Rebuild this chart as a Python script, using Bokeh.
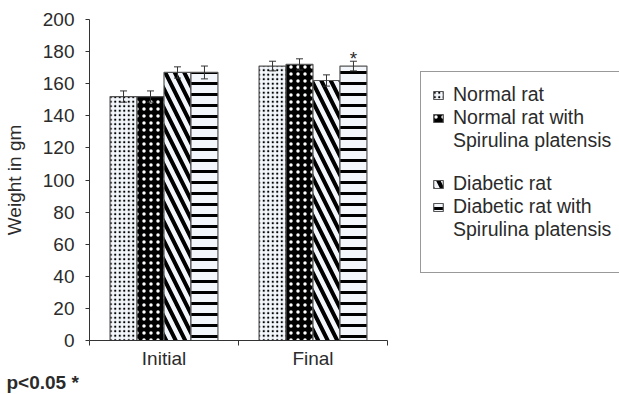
from bokeh.plotting import figure
from bokeh.models import (Range1d, FixedTicker, ColumnDataSource, Whisker,
                          Legend, LegendItem, Title, TeeHead)
from bokeh.core.properties import value
from bokeh.embed import file_html
from bokeh.resources import INLINE

# ---------------- data ----------------
groups = ["Initial", "Final"]
series = ["Normal rat", "Normal rat with Spirulina platensis",
          "Diabetic rat", "Diabetic rat with Spirulina platensis"]
normal = [152, 171]
normal_sp = [152, 172]
diabetic = [167, 162]
diabetic_sp = [167, 171]
normal_err = [3.5, 3.0]
normal_sp_err = [3.5, 3.5]
diabetic_err = [3.5, 3.5]
diabetic_sp_err = [4.0, 3.0]
y_ticks = [0, 20, 40, 60, 80, 100, 120, 140, 160, 180, 200]
sig_marks = ["", "*"]          # significance mark on "Diabetic rat with Spirulina" bars
note_text = "p<0.05 *"
y_title = "Weight in gm"

values = [normal, normal_sp, diabetic, diabetic_sp]
errors = [normal_err, normal_sp_err, diabetic_err, diabetic_sp_err]

FONT = "Liberation Sans"
TXT = "#2b2b2b"
LIGHT = "#f3f7fb"

# ---------------- layout ----------------
W, H = 619, 394
LEFT, TOP, BOTTOM = 89, 19, 54
AXIS_PX = 298                      # pixel length of the category axis
frame_w = W - LEFT
x_end = len(groups) * frame_w / AXIS_PX   # frame extends right to host the legend

p = figure(width=W, height=H, x_range=Range1d(0, x_end), y_range=Range1d(0, 200),
           output_backend="svg", toolbar_location=None,
           min_border_left=LEFT, min_border_right=0, min_border_top=TOP, min_border_bottom=BOTTOM)
p.xgrid.visible = False
p.ygrid.visible = False
p.outline_line_color = None
p.background_fill_color = "white"
p.border_fill_color = "white"

n = len(series)
bar_w = 0.181
offsets = [(k - (n - 1) / 2) * bar_w for k in range(n)]

styles = [
    dict(fill_color=LIGHT, hatch_pattern="dot", hatch_color="black", hatch_scale=4.5, hatch_weight=2.8),
    dict(fill_color="black", hatch_pattern="dot", hatch_color="white", hatch_scale=7, hatch_weight=1.6),
    dict(fill_color=LIGHT, hatch_pattern="left_diagonal_line", hatch_color="black", hatch_scale=19, hatch_weight=4),
    dict(fill_color=LIGHT, hatch_pattern="horizontal_line", hatch_color="black", hatch_scale=11, hatch_weight=3),
]

renderers = []
for k in range(n):
    xs = [g + 0.5 + offsets[k] for g in range(len(groups))]
    src = ColumnDataSource(dict(
        x=xs, top=values[k],
        upper=[v + e for v, e in zip(values[k], errors[k])],
        lower=[v - e for v, e in zip(values[k], errors[k])],
    ))
    r = p.vbar(x="x", top="top", width=bar_w, source=src, line_color="#555555", line_width=1.2,
               **styles[k])
    renderers.append(r)
    w = Whisker(source=src, base="x", upper="upper", lower="lower", line_color="#333333", line_width=1,
                upper_head=TeeHead(size=7, line_color="#333333", line_width=1),
                lower_head=TeeHead(size=7, line_color="#333333", line_width=1))
    w.level = "overlay"
    p.add_layout(w)

# significance asterisk
last = n - 1
ast_src = ColumnDataSource(dict(
    x=[g + 0.5 + offsets[last] for g in range(len(groups))],
    y=[v + e + 1.5 for v, e in zip(values[last], errors[last])],
    t=sig_marks))
p.text(x="x", y="y", text="t", source=ast_src, text_align="center", text_baseline="alphabetic",
       text_font=value(FONT), text_font_size="19px", text_color=TXT)

# ---------------- axes ----------------
ya = p.yaxis[0]
ya.ticker = FixedTicker(ticks=y_ticks, minor_ticks=[])
ya.major_tick_out = 4
ya.major_tick_in = 0
ya.minor_tick_out = 0
ya.axis_line_color = "#333333"
ya.major_tick_line_color = "#333333"
ya.major_label_text_font = FONT
ya.major_label_text_font_size = "19px"
ya.major_label_text_color = TXT
ya.major_label_standoff = 11
ya.axis_label = y_title
ya.axis_label_text_font = FONT
ya.axis_label_text_font_size = "19px"
ya.axis_label_text_font_style = "normal"
ya.axis_label_text_color = TXT
ya.axis_label_standoff = 15

xa = p.xaxis[0]
centers = [g + 0.5 for g in range(len(groups))]
xa.bounds = (0, len(groups))
xa.ticker = FixedTicker(ticks=centers, minor_ticks=list(range(len(groups) + 1)))
xa.major_label_overrides = {c: g for c, g in zip(centers, groups)}
xa.major_tick_out = 0
xa.major_tick_in = 0
xa.minor_tick_out = 5
xa.minor_tick_in = 0
xa.minor_tick_line_color = "#333333"
xa.axis_line_color = "#333333"
xa.major_label_text_font = FONT
xa.major_label_text_font_size = "19px"
xa.major_label_text_color = TXT
xa.major_label_standoff = 2

# ---------------- legend ----------------
blank = p.vbar(x=[], top=[], width=0.1, fill_alpha=0, line_alpha=0)
items = [
    LegendItem(label="Normal rat", renderers=[renderers[0]]),
    LegendItem(label="Normal rat with", renderers=[renderers[1]]),
    LegendItem(label="Spirulina platensis", renderers=[blank]),
    LegendItem(label=" ", renderers=[blank]),
    LegendItem(label="Diabetic rat", renderers=[renderers[2]]),
    LegendItem(label="Diabetic rat with", renderers=[renderers[3]]),
    LegendItem(label="Spirulina platensis", renderers=[blank]),
    LegendItem(label=" ", renderers=[blank]),
]
legend = Legend(items=items, location=(331, 67), padding=11, spacing=0, margin=0,
                label_height=20, glyph_height=10, glyph_width=12, label_standoff=9,
                border_line_color="#333333", border_line_width=1,
                background_fill_color="white", background_fill_alpha=1,
                label_text_font=FONT, label_text_font_size="19.5px", label_text_color=TXT)
p.add_layout(legend)

# ---------------- note ----------------
note = Title(text=note_text, align="left", offset=-83, standoff=-4,
             text_font=FONT, text_font_size="19px", text_font_style="bold", text_color=TXT)
p.add_layout(note, "below")

open("out.html", "w").write(file_html(p, INLINE))
